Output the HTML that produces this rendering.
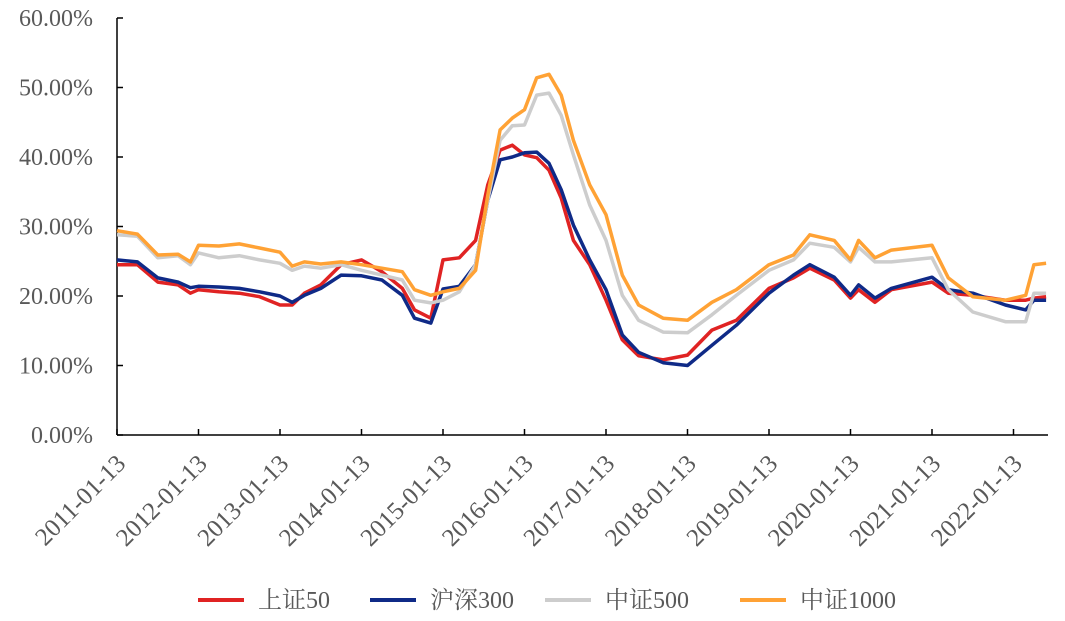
<!DOCTYPE html>
<html><head><meta charset="utf-8"><style>
body{margin:0;background:#fff;}
svg{display:block;font-family:"Liberation Serif","Noto Serif CJK SC",serif;}
</style></head><body>
<svg id="chart" width="1065" height="621" viewBox="0 0 1065 621" xmlns="http://www.w3.org/2000/svg">
<g id="axes"></g><g id="series"></g><g id="legend"></g>
</svg>
<script>
const tYears=[0,0.25,0.5,0.75,0.9,1.0,1.25,1.5,1.75,2.0,2.15,2.3,2.5,2.75,3.0,3.25,3.5,3.65,3.85,4.0,4.2,4.4,4.55,4.7,4.85,5.0,5.15,5.3,5.45,5.6,5.8,6.0,6.2,6.4,6.7,7.0,7.3,7.6,8.0,8.3,8.5,8.8,9.0,9.1,9.3,9.5,10.0,10.2,10.5,10.9,11.15,11.25,11.4];
const sz50=[24.5,24.5,22,21.6,20.4,20.9,20.6,20.4,19.9,18.7,18.7,20.4,21.6,24.5,25.2,23.5,21.1,18,16.8,25.2,25.5,28,36,41,41.7,40.3,39.9,38.1,34.1,28,24.5,19.4,13.7,11.4,10.8,11.5,15.1,16.5,21.1,22.6,24,22.3,19.7,20.9,19.1,20.9,22,20.4,20.1,19.4,19.4,19.7,19.9];
const hs300=[25.2,24.9,22.6,22,21.2,21.4,21.3,21.1,20.6,20,19.1,20.1,21.1,23,22.9,22.3,20.1,16.8,16.1,21,21.4,24.5,33.8,39.6,40,40.6,40.7,39.1,35.3,30.2,25.2,20.9,14.4,11.9,10.4,10,12.9,15.8,20.4,23,24.5,22.7,20.1,21.6,19.7,21.1,22.7,20.9,20.4,18.7,18,19.4,19.4];
const zz500=[28.8,28.6,25.5,25.8,24.5,26.2,25.5,25.8,25.2,24.7,23.7,24.3,24,24.5,23.7,23,22.3,19.4,19,19.4,20.6,24.5,33.8,42.4,44.5,44.6,48.9,49.2,46,40.3,33.1,28,20.1,16.5,14.8,14.7,17.3,20.1,23.7,25.2,27.6,27,24.9,27,24.9,24.9,25.5,20.9,17.7,16.3,16.3,20.4,20.4];
const zz1000=[29.4,28.9,25.9,26,24.9,27.3,27.2,27.5,26.9,26.3,24.3,24.9,24.6,24.9,24.5,24,23.5,20.9,20.1,20.6,21.1,23.7,34.5,43.9,45.6,46.8,51.4,51.9,48.9,42.4,36,31.7,23,18.7,16.8,16.5,19.1,20.9,24.5,25.9,28.8,28,25.2,28,25.5,26.6,27.3,22.6,19.9,19.4,20.1,24.5,24.7];
const yTicks=[0,10,20,30,40,50,60];
const xTickLabels=["2011-01-13","2012-01-13","2013-01-13","2014-01-13","2015-01-13","2016-01-13","2017-01-13","2018-01-13","2019-01-13","2020-01-13","2021-01-13","2022-01-13"];
const seriesNames=["上证50","沪深300","中证500","中证1000"];

const NS="http://www.w3.org/2000/svg";
const X0=117,PX=81.5,Y0=435,PY=6.95;
const xs=t=>X0+t*PX, ys=v=>Y0-v*PY;
function mk(tag,attrs,parent){const e=document.createElementNS(NS,tag);for(const k in attrs)e.setAttribute(k,attrs[k]);parent.appendChild(e);return e;}
const axes=document.getElementById('axes'),ser=document.getElementById('series'),leg=document.getElementById('legend');
let a=mk('line',{x1:X0,y1:18,x2:X0,y2:Y0,stroke:'#000','stroke-width':1.5},axes);

a=mk('line',{x1:X0,y1:Y0,x2:1048,y2:Y0,stroke:'#000','stroke-width':1.5},axes);

yTicks.forEach(v=>{
 const tk=mk('line',{x1:X0,y1:ys(v),x2:X0+6,y2:ys(v),stroke:'#000','stroke-width':1.5},axes);
 
 const tx=mk('text',{x:X0-24,y:ys(v)+8,'text-anchor':'end','font-size':24,fill:'#595959'},axes);
 tx.textContent=v.toFixed(2)+'%';
 
});
xTickLabels.forEach((l,i)=>{
 const x=xs(i);
 const tk=mk('line',{x1:x,y1:Y0,x2:x,y2:Y0-6,stroke:'#000','stroke-width':1.5},axes);
 
 const ax=x+10, ay=Y0+30;
 const tx=mk('text',{x:ax,y:ay,'text-anchor':'end','font-size':25,fill:'#595959',transform:`rotate(-45 ${ax} ${ay})`},axes);
 tx.textContent=l;
 
});
const data=[sz50,hs300,zz500,zz1000];
const colors=['#e02323','#0f2a87','#cdcdcd','#ffa235'];
const ids=['series-sz50','series-hs300','series-zz500','series-zz1000'];
data.forEach((arr,k)=>{
 const d=arr.map((v,i)=>(i?'L':'M')+xs(tYears[i]).toFixed(1)+','+ys(v).toFixed(1)).join('');
 const p=mk('path',{d:d,fill:'none',stroke:colors[k],'stroke-width':3.5,'stroke-linejoin':'round'},ser);
 
});
const lx=[198,370,545,740];
seriesNames.forEach((n,k)=>{
 const g=mk('g',{},leg);
 
 mk('line',{x1:lx[k],y1:600,x2:lx[k]+46,y2:600,stroke:colors[k],'stroke-width':4}, g);
 const t=mk('text',{x:lx[k]+60,y:608,'font-size':24,fill:'#595959'},g);
 t.textContent=n;
});
</script>
</body></html>
